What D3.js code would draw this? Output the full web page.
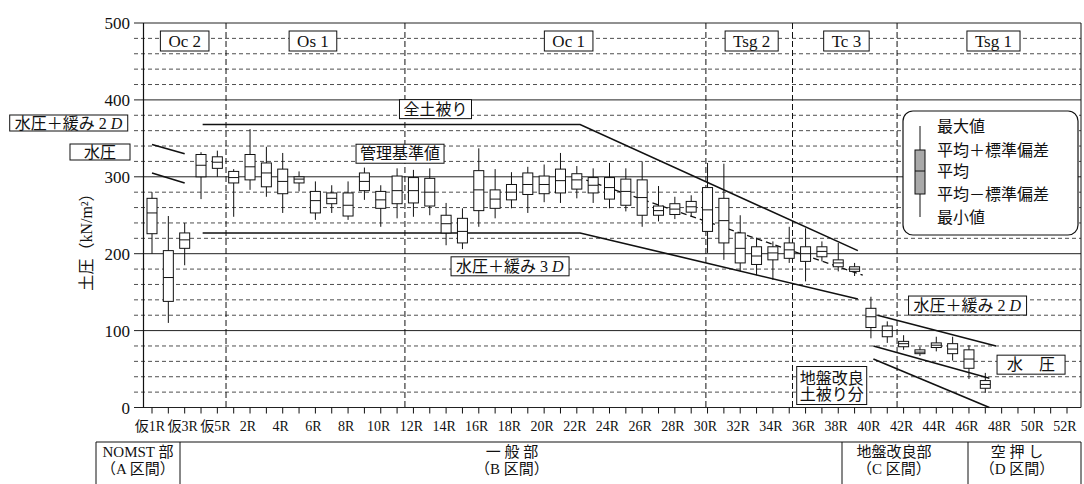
<!DOCTYPE html>
<html>
<head>
<meta charset="utf-8">
<script src="https://cdn.jsdelivr.net/npm/d3@7"></script>
<style>
    body { margin: 0; background: #fff; }
    text { font-family: "Liberation Serif", "Noto Sans CJK JP", serif; fill: #111; }
</style>
</head>
<body>
<svg id="chart" width="1084" height="484"></svg>
<script>
// リング番号（仮1R〜仮5R, 1R〜52R）
var rings = ["仮1R", "仮2R", "仮3R", "仮4R", "仮5R",
    "1R", "2R", "3R", "4R", "5R", "6R", "7R", "8R", "9R", "10R",
    "11R", "12R", "13R", "14R", "15R", "16R", "17R", "18R", "19R", "20R",
    "21R", "22R", "23R", "24R", "25R", "26R", "27R", "28R", "29R", "30R",
    "31R", "32R", "33R", "34R", "35R", "36R", "37R", "38R", "39R", "40R",
    "41R", "42R", "43R", "44R", "45R", "46R", "47R", "48R", "49R", "50R",
    "51R", "52R"];
var tickLabels = ["仮1R", "仮3R", "仮5R", "2R", "4R", "6R", "8R", "10R", "12R", "14R",
    "16R", "18R", "20R", "22R", "24R", "26R", "28R", "30R", "32R", "34R",
    "36R", "38R", "40R", "42R", "44R", "46R", "48R", "50R", "52R"];
var yTicks = [0, 100, 200, 300, 400, 500];

// 土圧 計測値 (kN/m2) 仮1R〜47R
var boxRings = rings.slice(0, 52);
var maxV = [280, 249, 240, 332, 334,
    310, 362, 339, 331, 307, 294, 289, 294, 312, 289,
    311, 309, 311, 266, 259, 337, 310, 306, 313, 316,
    331, 314, 311, 318, 311, 320, 288, 274, 276, 318,
    317, 250, 221, 216, 235, 233, 216, 214, 188,
    144, 112, 94, 79, 92, 92, 81, 45];
var upV = [272, 204, 227, 329, 326,
    307, 329, 318, 310, 300, 281, 279, 279, 305, 281,
    301, 299, 298, 250, 246, 308, 283, 290, 305, 301,
    310, 304, 299, 299, 297, 296, 262, 265, 268, 286,
    272, 227, 209, 209, 214, 209, 209, 192, 183,
    129, 106, 86, 75, 84, 83, 75, 35];
var meanV = [253, 169, 218, 315, 319,
    299, 313, 305, 294, 297, 269, 272, 263, 294, 270,
    282, 282, 280, 239, 229, 283, 271, 280, 290, 290,
    295, 296, 289, 286, 281, 273, 256, 258, 261, 257,
    243, 207, 197, 201, 205, 200, 203, 188, 180,
    118, 100, 83, 72, 81, 76, 63, 30];
var lowV = [226, 138, 207, 300, 311,
    292, 296, 287, 278, 292, 253, 265, 249, 282, 259,
    265, 266, 262, 227, 214, 256, 259, 270, 277, 278,
    279, 284, 279, 271, 263, 250, 250, 251, 254, 229,
    214, 188, 186, 192, 194, 190, 196, 183, 177,
    104, 92, 79, 70, 78, 70, 51, 25];
var minV = [200, 110, 185, 271, 300,
    248, 283, 274, 253, 281, 244, 253, 244, 270, 235,
    246, 248, 250, 211, 206, 235, 246, 259, 253, 267,
    266, 272, 266, 259, 255, 235, 242, 245, 248, 201,
    192, 177, 172, 166, 188, 164, 190, 177, 171,
    90, 84, 75, 67, 73, 61, 37, 19];

// 設計土圧の線 [リング位置, 土圧]
var fullCover = [[3.1, 368], [26.2, 368], [43.2, 204]];
var loose3D = [[3.1, 227], [26.2, 227], [43.2, 141]];
var mgmtLine = [[26, 300], [43.5, 172]];
var leftLoose2D = [[0, 342], [2, 330]];
var leftWater = [[0, 305], [2, 292]];
var rightLoose2D = [[44.4, 120], [51.65, 80]];
var rightWater = [[44.15, 80], [51.25, 38]];
var improveCover = [[44.15, 63], [51.25, 0]];

// 地層区分
var zoneNames = ["Oc 2", "Os 1", "Oc 1", "Tsg 2", "Tc 3", "Tsg 1"];
var zoneBounds = [4.53, 15.48, 33.9, 39.2, 45.6];
var zoneLabelAt = [2.0, 9.85, 25.5, 36.7, 42.5, 51.5];

// 区間
var sectionTop = ["NOMST 部", "一 般 部", "地盤改良部", "空 押 し"];
var sectionBottom = ["（A 区間）", "（B 区間）", "（C 区間）", "（D 区間）"];

var legendItems = ["最大値", "平均＋標準偏差", "平均", "平均－標準偏差", "最小値"];

var svg = d3.select("#chart");
var plotL = 143.5, plotR = 1081;
var x = d3.scaleLinear().domain([0, rings.length - 1]).range([152, 1067]);
var y = d3.scaleLinear().domain([0, 500]).range([407.5, 23]);

// 横グリッド
svg.append("g").selectAll("line")
    .data(d3.range(0, 501, 20))
    .enter().append("line")
    .attr("x1", 134).attr("x2", plotR)
    .attr("y1", function (d) { return y(d); })
    .attr("y2", function (d) { return y(d); })
    .attr("stroke", "#222")
    .attr("stroke-width", function (d) { return d % 100 === 0 ? 1 : 0.8; })
    .attr("stroke-dasharray", function (d) { return d % 100 === 0 ? null : "4,3"; });

// 地層境界
svg.append("g").selectAll("line")
    .data(zoneBounds)
    .enter().append("line")
    .attr("x1", function (d) { return x(d); })
    .attr("x2", function (d) { return x(d); })
    .attr("y1", y(500)).attr("y2", y(0))
    .attr("stroke", "#111")
    .attr("stroke-width", 1)
    .attr("stroke-dasharray", "6,3");

// 軸線
svg.append("line").attr("x1", plotL).attr("x2", plotL).attr("y1", y(500)).attr("y2", y(0))
    .attr("stroke", "#111").attr("stroke-width", 1.2);
svg.append("line").attr("x1", plotR).attr("x2", plotR).attr("y1", y(500)).attr("y2", y(0))
    .attr("stroke", "#111").attr("stroke-width", 1);

// y目盛
svg.append("g").selectAll("text")
    .data(yTicks)
    .enter().append("text")
    .attr("x", 130).attr("y", function (d) { return y(d) + 6; })
    .attr("text-anchor", "end")
    .attr("font-size", 17)
    .text(function (d) { return d; });

svg.append("text")
    .attr("transform", "translate(92,238) rotate(-90)")
    .attr("text-anchor", "middle")
    .attr("font-size", 16)
    .text("土圧（kN/m²）");

// x目盛
svg.append("g").selectAll("line")
    .data(rings)
    .enter().append("line")
    .attr("x1", function (d, i) { return x(i); })
    .attr("x2", function (d, i) { return x(i); })
    .attr("y1", y(0)).attr("y2", y(0) + 6)
    .attr("stroke", "#111");
svg.append("g").selectAll("text")
    .data(tickLabels)
    .enter().append("text")
    .attr("x", function (d) { return x(rings.indexOf(d)) - 2; })
    .attr("y", 431)
    .attr("text-anchor", "middle")
    .attr("font-size", 14)
    .text(function (d) { return d; });

// 設計線
var line = d3.line()
    .x(function (d) { return x(d[0]); })
    .y(function (d) { return y(d[1]); });
[fullCover, loose3D, leftLoose2D, leftWater, rightLoose2D, rightWater, improveCover].forEach(function (pts) {
    svg.append("path").attr("d", line(pts))
        .attr("fill", "none").attr("stroke", "#111").attr("stroke-width", 1.6);
});
svg.append("path").attr("d", line(mgmtLine))
    .attr("fill", "none").attr("stroke", "#111").attr("stroke-width", 1.3)
    .attr("stroke-dasharray", "6,4");

// 箱ひげ
var boxes = svg.append("g").selectAll("g")
    .data(boxRings)
    .enter().append("g");
boxes.append("line")
    .attr("x1", function (d) { return x(rings.indexOf(d)); })
    .attr("x2", function (d) { return x(rings.indexOf(d)); })
    .attr("y1", function (d, i) { return y(maxV[i]); })
    .attr("y2", function (d, i) { return y(minV[i]); })
    .attr("stroke", "#111").attr("stroke-width", 1);
boxes.append("rect")
    .attr("x", function (d) { return x(rings.indexOf(d)) - 5; })
    .attr("y", function (d, i) { return y(upV[i]); })
    .attr("width", 10)
    .attr("height", function (d, i) { return y(lowV[i]) - y(upV[i]); })
    .attr("fill", "#fff").attr("stroke", "#111").attr("stroke-width", 1);
boxes.append("line")
    .attr("x1", function (d) { return x(rings.indexOf(d)) - 5; })
    .attr("x2", function (d) { return x(rings.indexOf(d)) + 5; })
    .attr("y1", function (d, i) { return y(meanV[i]); })
    .attr("y2", function (d, i) { return y(meanV[i]); })
    .attr("stroke", "#111").attr("stroke-width", 1);

// 枠付きラベル
function boxLabel(cx, cy, parts, size, padX, padY) {
    var g = svg.append("g");
    var rect = g.append("rect").attr("fill", "#fff").attr("stroke", "#111").attr("stroke-width", 1);
    var t = g.append("text").attr("x", cx).attr("y", cy + size * 0.36)
        .attr("text-anchor", "middle").attr("font-size", size);
    parts.forEach(function (p) {
        var s = t.append("tspan").text(p[0]);
        if (p[1]) s.attr("font-style", "italic");
    });
    var bb = t.node().getBBox();
    rect.attr("x", bb.x - padX).attr("y", cy - size / 2 - padY)
        .attr("width", bb.width + padX * 2).attr("height", size + padY * 2);
}

zoneNames.forEach(function (n, i) {
    boxLabel(x(zoneLabelAt[i]), 41, [[n]], 17, 8, 1.5);
});

boxLabel(x(17.35), y(388), [["全土被り"]], 16, 4, 1.5);
boxLabel(x(15.18), y(330), [["管理基準値"]], 16, 4, 1.5);
boxLabel(x(21.9), y(183.6), [["水圧＋緩み 3 "], ["D", true]], 16, 5, 1.5);
boxLabel(x(49.9), y(132.6), [["水圧＋緩み 2 "], ["D", true]], 16, 5, 1.5);
boxLabel(x(53.8), y(55.7), [["水　圧"]], 16, 10, 1.5);
boxLabel(68.5, 123, [["水圧＋緩み 2 "], ["D", true]], 16, 5, 0);
boxLabel(100, 152, [["水圧"]], 16, 14, 0);

// 地盤改良 土被り分
(function () {
    var cx = x(41.6), cy = y(28.6);
    var g = svg.append("g");
    g.append("rect").attr("x", cx - 35).attr("y", cy - 19).attr("width", 70).attr("height", 38)
        .attr("fill", "#fff").attr("stroke", "#111");
    g.append("text").attr("x", cx).attr("y", cy - 2).attr("text-anchor", "middle")
        .attr("font-size", 16).text("地盤改良");
    g.append("text").attr("x", cx).attr("y", cy + 14).attr("text-anchor", "middle")
        .attr("font-size", 16).text("土被り分");
})();

// 凡例
var lg = svg.append("g").attr("transform", "translate(903,111)");
lg.append("rect").attr("width", 175).attr("height", 124).attr("rx", 10)
    .attr("fill", "#fff").attr("stroke", "#111").attr("stroke-width", 1.2);
var lgY = [15, 39, 60, 83, 106];
lg.append("line").attr("x1", 17).attr("x2", 17).attr("y1", lgY[0]).attr("y2", lgY[4])
    .attr("stroke", "#111");
lg.append("rect").attr("x", 12).attr("y", lgY[1]).attr("width", 10)
    .attr("height", lgY[3] - lgY[1]).attr("fill", "#a9a9a9").attr("stroke", "#111");
lg.append("line").attr("x1", 12).attr("x2", 22).attr("y1", lgY[2]).attr("y2", lgY[2])
    .attr("stroke", "#111");
lg.selectAll("text.item")
    .data(legendItems)
    .enter().append("text")
    .attr("class", "item")
    .attr("x", 34)
    .attr("y", function (d, i) { return lgY[i] + 6; })
    .attr("font-size", 16)
    .text(function (d) { return d; });

// 区間表
var colEdges = [96, 180, 842, 968, 1081];
var colCenters = [138, 512, 894, 1017];
svg.append("line").attr("x1", 96).attr("x2", 1081).attr("y1", 442).attr("y2", 442)
    .attr("stroke", "#111");
svg.append("g").selectAll("line")
    .data(colEdges)
    .enter().append("line")
    .attr("x1", function (d) { return d; }).attr("x2", function (d) { return d; })
    .attr("y1", 442).attr("y2", 484)
    .attr("stroke", "#111");
svg.append("g").selectAll("text")
    .data(sectionTop)
    .enter().append("text")
    .attr("x", function (d, i) { return colCenters[i]; })
    .attr("y", 457)
    .attr("text-anchor", "middle").attr("font-size", 15)
    .text(function (d) { return d; });
svg.append("g").selectAll("text")
    .data(sectionBottom)
    .enter().append("text")
    .attr("x", function (d, i) { return colCenters[i]; })
    .attr("y", 474)
    .attr("text-anchor", "middle").attr("font-size", 15)
    .text(function (d) { return d; });
</script>
</body>
</html>
